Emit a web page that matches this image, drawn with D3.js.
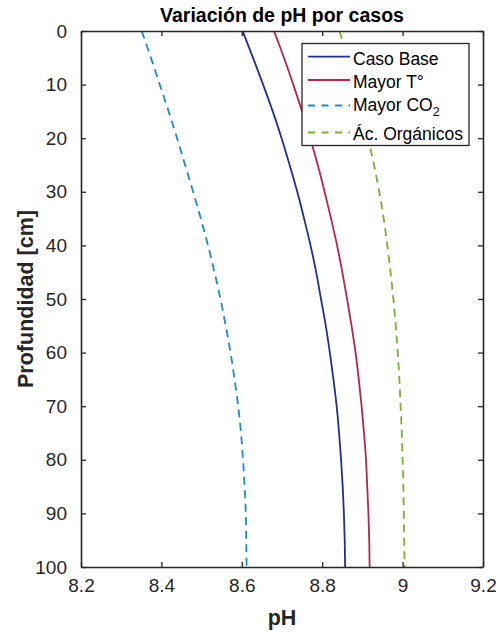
<!DOCTYPE html>
<html>
<head>
<meta charset="utf-8">
<script src="https://cdn.jsdelivr.net/npm/d3@7"></script>
<style>
  html, body { margin: 0; padding: 0; background: #fff; }
  svg { display: block; font-family: "Liberation Sans", Arial, sans-serif; }
</style>
</head>
<body>
<div id="chart"></div>
<script>
// ---- Data ----
const depths = [0, 5, 10, 15, 20, 25, 30, 35, 40, 45, 50, 55, 60, 65, 70, 75, 80, 85, 90, 95, 100];
const casoBase = [8.602, 8.628, 8.653, 8.677, 8.699, 8.719, 8.738, 8.755, 8.771, 8.785, 8.797, 8.809, 8.819, 8.828, 8.836, 8.842, 8.847, 8.851, 8.854, 8.856, 8.857];
const mayorT = [8.680, 8.705, 8.728, 8.750, 8.770, 8.789, 8.806, 8.822, 8.837, 8.850, 8.862, 8.873, 8.883, 8.891, 8.898, 8.904, 8.909, 8.912, 8.915, 8.917, 8.918];
const mayorCO2 = [8.351, 8.374, 8.396, 8.418, 8.439, 8.459, 8.479, 8.498, 8.516, 8.532, 8.547, 8.560, 8.572, 8.582, 8.591, 8.598, 8.603, 8.607, 8.610, 8.611, 8.612];
const acOrganicos = [8.843, 8.863, 8.881, 8.898, 8.914, 8.929, 8.942, 8.953, 8.962, 8.970, 8.977, 8.983, 8.988, 8.992, 8.995, 8.998, 9.000, 9.002, 9.003, 9.004, 9.005];
const xTicks = [8.2, 8.4, 8.6, 8.8, 9, 9.2];
const yTicks = [0, 10, 20, 30, 40, 50, 60, 70, 80, 90, 100];
const seriesNames = ["Caso Base", "Mayor T°", "Mayor CO2", "Ác. Orgánicos"];

const series = [
  { name: seriesNames[0], values: casoBase, color: "#1f2f98", dash: null },
  { name: seriesNames[1], values: mayorT, color: "#b8244a", dash: null },
  { name: seriesNames[2], values: mayorCO2, color: "#1a8ad6", dash: "8,5.5" },
  { name: seriesNames[3], values: acOrganicos, color: "#77b22e", dash: "8,5.5" }
];

// ---- Layout ----
const W = 496, H = 633;
const m = { left: 81, right: 13, top: 31, bottom: 66 };
const x = d3.scaleLinear().domain([8.2, 9.2]).range([m.left, W - m.right]);
const y = d3.scaleLinear().domain([0, 100]).range([m.top, H - m.bottom]);
const axisColor = "#262626";

const svg = d3.select("#chart").append("svg").attr("width", W).attr("height", H);

// Lines
const line = d3.line().curve(d3.curveMonotoneY);
series.forEach(s => {
  const pts = depths.map((d, i) => [x(s.values[i]), y(d)]);
  svg.append("path")
    .attr("d", line(pts))
    .attr("fill", "none")
    .attr("stroke", s.color)
    .attr("stroke-width", 1.8)
    .attr("stroke-dasharray", s.dash);
});

// Axes
const tickLen = 5;
const xAxisB = d3.axisBottom(x).tickValues(xTicks).tickSizeInner(-tickLen).tickSizeOuter(0).tickPadding(12)
  .tickFormat(d => d3.format("")(+d.toFixed(1)));
const xAxisT = d3.axisTop(x).tickValues(xTicks).tickSizeInner(-tickLen).tickSizeOuter(0).tickFormat("");
const yAxisL = d3.axisLeft(y).tickValues(yTicks).tickSizeInner(-tickLen).tickSizeOuter(0).tickPadding(14);
const yAxisR = d3.axisRight(y).tickValues(yTicks).tickSizeInner(-tickLen).tickSizeOuter(0).tickFormat("");

function style(g) {
  g.select(".domain").attr("stroke", axisColor).attr("stroke-width", 1.6);
  g.selectAll(".tick line").attr("stroke", axisColor).attr("stroke-width", 1.3);
  g.selectAll(".tick text").attr("fill", axisColor).attr("font-size", 19)
    .attr("font-family", "'Liberation Sans', Arial, sans-serif");
}
svg.append("g").attr("transform", `translate(0,${H - m.bottom})`).call(xAxisB).call(style);
svg.append("g").attr("transform", `translate(0,${m.top})`).call(xAxisT).call(style);
svg.append("g").attr("transform", `translate(${m.left},0)`).call(yAxisL).call(style);
svg.append("g").attr("transform", `translate(${W - m.right},0)`).call(yAxisR).call(style);

// Title & labels
svg.append("text").attr("x", (m.left + W - m.right) / 2).attr("y", 22)
  .attr("text-anchor", "middle").attr("font-size", 19.5).attr("font-weight", "bold")
  .attr("fill", "#000").text("Variación de pH por casos");
svg.append("text").attr("x", (m.left + W - m.right) / 2).attr("y", 625)
  .attr("text-anchor", "middle").attr("font-size", 21.5).attr("font-weight", "bold")
  .attr("fill", axisColor).text("pH");
svg.append("text").attr("transform", `translate(33,${(m.top + H - m.bottom) / 2}) rotate(-90)`)
  .attr("text-anchor", "middle").attr("font-size", 21.5).attr("font-weight", "bold")
  .attr("fill", axisColor).text("Profundidad [cm]");

// Legend
const lg = svg.append("g");
lg.append("rect").attr("x", 302).attr("y", 43.5).attr("width", 167).attr("height", 102)
  .attr("fill", "#fff").attr("stroke", axisColor).attr("stroke-width", 1.3);
const lineYs = [56.7, 80, 105.5, 132.5];
const textYs = [64.8, 88.3, 110.5, 140];
series.forEach((s, i) => {
  lg.append("line").attr("x1", 308).attr("x2", 350).attr("y1", lineYs[i]).attr("y2", lineYs[i])
    .attr("stroke", s.color).attr("stroke-width", 1.8)
    .attr("stroke-dasharray", s.dash ? "7,6.5" : null);
  const t = lg.append("text").attr("x", 353).attr("y", textYs[i]).attr("font-size", 17.5).attr("fill", "#000");
  if (s.name === "Mayor CO2") {
    t.append("tspan").text("Mayor CO");
    t.append("tspan").attr("dy", 5).attr("font-size", 12.5).text("2");
  } else {
    t.text(s.name);
  }
});
</script>
</body>
</html>
